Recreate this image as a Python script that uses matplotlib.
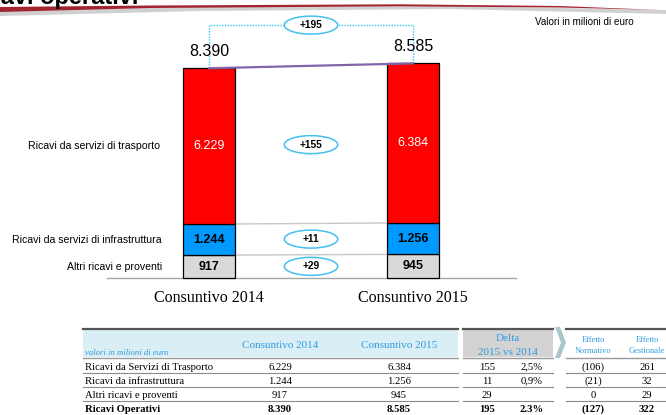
import matplotlib
matplotlib.use("Agg")
import matplotlib.pyplot as plt
from matplotlib.patches import Ellipse, Rectangle, Polygon
from matplotlib.lines import Line2D

W, H = 666, 415

# --- dati ---
categories = ["Consuntivo 2014", "Consuntivo 2015"]
seg_labels = ["Altri ricavi e proventi", "Ricavi da servizi di infrastruttura",
              "Ricavi da servizi di trasporto"]
altri = [917, 945]
infrastruttura = [1244, 1256]
trasporto = [6229, 6384]
delta_seg = [29, 11, 155]          # altri, infrastruttura, trasporto
delta_tot = 195

tab_rows = ["Ricavi da Servizi di Trasporto", "Ricavi da infrastruttura",
            "Altri ricavi e proventi", "Ricavi Operativi"]
tab_2014 = [6229, 1244, 917, 8390]
tab_2015 = [6384, 1256, 945, 8585]
tab_delta = [155, 11, 29, 195]
tab_pct = ["2,5%", "0,9%", "", "2.3%"]
eff_norm = [-106, -21, 0, -127]
eff_gest = [261, 32, 29, 322]

SANS = "Liberation Sans"
SERIF = "Liberation Serif"
BLUE_TXT = "#2f9be0"


def it(v):
    return f"{v:,}".replace(",", ".")


def par(v):
    return f"({abs(v)})" if v < 0 else str(v)


def fx(x):
    return x / W


def fy(y):
    return 1 - y / H


fig = plt.figure(figsize=(W / 100, H / 100), dpi=100)
fig.patch.set_facecolor("white")

# asse del grafico su tutta la figura (pixel -> dati)
ax = fig.add_axes([0, 0, 1, 1])
ax.set_xlim(-209 / 204, (W - 209) / 204)
ax.set_ylim(-137 * 40, 278 * 40)
ax.axis("off")

x = [0, 1]
bw = 0.255
b2 = [a + b for a, b in zip(altri, infrastruttura)]
totals = [a + b + c for a, b, c in zip(altri, infrastruttura, trasporto)]

ax.bar(x, altri, width=bw, color="#d9d9d9", edgecolor="black", lw=0.9, zorder=3)
ax.bar(x, infrastruttura, bottom=altri, width=bw, color="#0099ff",
       edgecolor="black", lw=0.9, zorder=3)
ax.bar(x, trasporto, bottom=b2, width=bw, color="#ff0000",
       edgecolor="black", lw=0.9, zorder=3)

# valori nelle barre
for i in x:
    ax.text(i, altri[i] / 2, it(altri[i]), ha="center", va="center",
            fontsize=9, fontweight="bold", family=SANS, zorder=4)
    ax.text(i, altri[i] + infrastruttura[i] / 2, it(infrastruttura[i]),
            ha="center", va="center", fontsize=9, fontweight="bold", family=SANS, zorder=4)
    ax.text(i, b2[i] + trasporto[i] / 2, it(trasporto[i]), ha="center",
            va="center", fontsize=9, color="white", family=SANS, zorder=4)
    ax.text(i, totals[i] + 360, it(totals[i]), ha="center", va="bottom",
            fontsize=11.5, family=SANS)
    ax.annotate(categories[i], (i, 0), xytext=(0, -14.5), textcoords="offset points",
                ha="center", va="center", fontsize=11.5, family=SERIF)

# etichette segmenti a sinistra
left_y = [altri[0] / 2, altri[0] + infrastruttura[0] / 2, b2[0] + trasporto[0] / 2]
left_x = [-0.23, -0.23, -0.24]
for lab, yy, xx in zip(seg_labels, left_y, left_x):
    ax.text(xx, yy, lab, ha="right", va="center", fontsize=7.6, family=SANS)

# linea base e collegamenti
ax.plot([-0.5, 1.505], [0, 0], color="#a6a6a6", lw=1, zorder=2)
e = bw / 2
ax.plot([e, 1 - e], altri, color="#c8c8c8", lw=1, zorder=2)
ax.plot([e, 1 - e], b2, color="#c8c8c8", lw=1, zorder=2)
ax.plot([0, 1], totals, color="#8065a8", lw=1.6, zorder=5)

# parentesi tratteggiata del delta totale
by = max(totals) + 1530
ax.plot([0, 0, 1, 1], [totals[0], by, by, totals[1]], color="#35c8f2",
        lw=1.0, ls=(0, (1, 1)), zorder=2)

# ellissi dei delta
mids = [[(altri[i]) / 2 for i in x],
        [altri[i] + infrastruttura[i] / 2 for i in x],
        [b2[i] + trasporto[i] / 2 for i in x]]
ell_y = [sum(m) / 2 for m in mids] + [by]
ell_v = delta_seg + [delta_tot]
for yy, v in zip(ell_y, ell_v):
    ax.add_patch(Ellipse((0.5, yy), 0.262, 720, facecolor="white",
                         edgecolor="#45c0ee", lw=1.1, zorder=4))
    ax.text(0.5, yy, f"+{v}", ha="center", va="center", fontsize=7.3,
            fontweight="bold", family=SANS, zorder=5)

# titolo e decorazione
fig.text(fx(-36), fy(4), "Ricavi operativi", fontsize=17, fontweight="bold",
         family=SANS, va="baseline", ha="left")
shadow = Polygon([(fx(0), fy(10)), (fx(200), fy(7)), (fx(450), fy(6)), (fx(666), fy(10)),
                  (fx(666), fy(14)), (fx(450), fy(9)), (fx(200), fy(11)), (fx(0), fy(16))],
                 closed=True, transform=fig.transFigure, facecolor="#d0d0d0", edgecolor="none")
fig.add_artist(shadow)
red = Polygon([(fx(0), fy(7)), (fx(150), fy(5.5)), (fx(400), fy(4.3)), (fx(560), fy(6)),
               (fx(660), fy(10)), (fx(560), fy(7.5)), (fx(400), fy(6.3)), (fx(150), fy(8)),
               (fx(0), fy(12))],
              closed=True, transform=fig.transFigure, facecolor="#a3242f", edgecolor="none")
fig.add_artist(red)
fig.text(fx(535), fy(22), "Valori in milioni di euro", fontsize=7.1, family=SANS,
         va="center", ha="left")


# --- tabella ---
def hline(x0, x1, y, color, lw):
    fig.add_artist(Line2D([fx(x0), fx(x1)], [fy(y), fy(y)], color=color, lw=lw,
                          transform=fig.transFigure))


def rect(x0, x1, y0, y1, color):
    fig.add_artist(Rectangle((fx(x0), fy(y1)), fx(x1) - fx(x0), (y1 - y0) / H,
                             transform=fig.transFigure, facecolor=color, edgecolor="none"))


rect(83, 458, 330, 357, "#daeef5")
rect(463, 553, 330, 357, "#d3d3d3")
for x0, x1 in [(83, 458), (463, 553), (566, 666)]:
    hline(x0, x1, 328.5, "#555555", 1.6)
    hline(x0, x1, 358, "#999999", 1.0)
    for yy in [373, 387, 401]:
        hline(x0, x1, yy, "#8c8c8c", 0.8)

chev = Polygon([(fx(555), fy(327)), (fx(560), fy(327)), (fx(566), fy(342.5)),
                (fx(560), fy(358)), (fx(555), fy(358)), (fx(561), fy(342.5))],
               closed=True, transform=fig.transFigure, facecolor="#a9c6ca", edgecolor="none")
fig.add_artist(chev)

fig.text(fx(85), fy(353), "valori in milioni di euro", fontsize=6.3, style="italic",
         color=BLUE_TXT, family=SERIF, va="center")
fig.text(fx(280), fy(345), categories[0], fontsize=8, color=BLUE_TXT, family=SERIF,
         ha="center", va="center")
fig.text(fx(399), fy(345), categories[1], fontsize=8, color=BLUE_TXT, family=SERIF,
         ha="center", va="center")
fig.text(fx(508), fy(338), "Delta", fontsize=8, color=BLUE_TXT, family=SERIF,
         ha="center", va="center")
fig.text(fx(508), fy(352), "2015 vs 2014", fontsize=8, color=BLUE_TXT, family=SERIF,
         ha="center", va="center")
for cx, lab in [(593, "Effetto\nNormativo"), (647, "Effetto\nGestionale")]:
    fig.text(fx(cx), fy(345.5), lab, fontsize=6, color=BLUE_TXT, family=SERIF,
             ha="center", va="center", linespacing=1.5)

row_y = [367, 381, 395, 409.5]
for k, yy in enumerate(row_y):
    w = "bold" if k == 3 else "normal"
    kw = dict(fontsize=7.7, family=SERIF, va="center", fontweight=w)
    fig.text(fx(85), fy(yy), tab_rows[k], ha="left", **kw)
    fig.text(fx(280), fy(yy), it(tab_2014[k]), ha="center", **kw)
    fig.text(fx(399), fy(yy), it(tab_2015[k]), ha="center", **kw)
    fig.text(fx(487), fy(yy), str(tab_delta[k]), ha="center", **kw)
    fig.text(fx(532), fy(yy), tab_pct[k], ha="center", **kw)
    fig.text(fx(593), fy(yy), par(eff_norm[k]), ha="center", **kw)
    fig.text(fx(647), fy(yy), str(eff_gest[k]), ha="center", **kw)

fig.savefig("out.png", dpi=100)
